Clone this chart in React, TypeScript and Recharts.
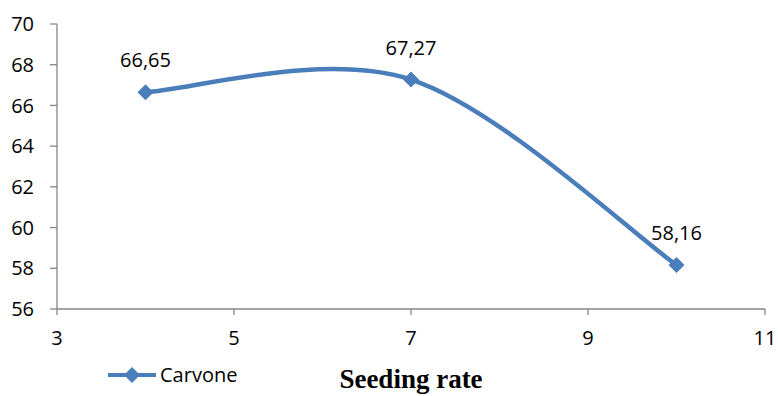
import React from 'react';
import { LineChart, Line, XAxis, YAxis, LabelList } from 'recharts';

// Seeding rate values and measured carvone content
const seedingRates = [4, 7, 10];
const carvone = [66.65, 67.27, 58.16];
const xTicks = [3, 5, 7, 9, 11];
const yTicks = [56, 58, 60, 62, 64, 66, 68, 70];

const data = seedingRates.map((x, i) => ({ x, carvone: carvone[i] }));

const FONT = '"Open Sans", sans-serif';
const LINE_COLOR = '#4A7EBB';
const AXIS_COLOR = '#868686';

// Excel-like smoothed line (Catmull-Rom turned into bezier segments)
const excelSmooth = (context: any) => {
  let pts: [number, number][] = [];
  return {
    areaStart() {},
    areaEnd() {},
    lineStart() {
      pts = [];
    },
    lineEnd() {
      const n = pts.length;
      if (!n) return;
      context.moveTo(pts[0][0], pts[0][1]);
      for (let i = 0; i < n - 1; i++) {
        const p0 = pts[Math.max(i - 1, 0)];
        const p1 = pts[i];
        const p2 = pts[i + 1];
        const p3 = pts[Math.min(i + 2, n - 1)];
        context.bezierCurveTo(
          p1[0] + (p2[0] - p0[0]) / 6,
          p1[1] + (p2[1] - p0[1]) / 6,
          p2[0] - (p3[0] - p1[0]) / 6,
          p2[1] - (p3[1] - p1[1]) / 6,
          p2[0],
          p2[1]
        );
      }
    },
    point(x: number, y: number) {
      pts.push([x, y]);
    },
  };
};

const Diamond = (props: any) => {
  const { cx, cy, index } = props;
  const r = 8;
  return (
    <path
      key={`dot-${index}`}
      d={`M${cx},${cy - r}L${cx + r},${cy}L${cx},${cy + r}L${cx - r},${cy}Z`}
      fill={LINE_COLOR}
    />
  );
};

const App = () => {
  return (
    <div style={{ position: 'absolute', left: 0, top: 0, width: 778, height: 396, background: '#fff' }}>
      <LineChart width={778} height={396} data={data} margin={{ top: 24, right: 13, bottom: 0, left: 0 }}>
        <XAxis
          dataKey="x"
          type="number"
          domain={[3, 11]}
          ticks={xTicks}
          height={87}
          tickSize={6}
          tickMargin={16}
          stroke={AXIS_COLOR}
          strokeWidth={1.3}
          tick={{ fill: '#000', fontFamily: FONT, fontSize: 20 }}
          label={{
            value: 'Seeding rate',
            position: 'insideBottom',
            offset: 8,
            style: { fontFamily: '"Liberation Serif", "Times New Roman", serif', fontWeight: 'bold', fontSize: 27, fill: '#000' },
          }}
        />
        <YAxis
          type="number"
          domain={[56, 70]}
          ticks={yTicks}
          width={57}
          tickSize={7}
          tickMargin={16}
          stroke={AXIS_COLOR}
          strokeWidth={1.3}
          tick={{ fill: '#000', fontFamily: FONT, fontSize: 20 }}
        />
        <Line
          dataKey="carvone"
          name="Carvone"
          type={excelSmooth as any}
          stroke={LINE_COLOR}
          strokeWidth={4.5}
          dot={Diamond}
          activeDot={false}
          isAnimationActive={false}
        >
          <LabelList
            dataKey="carvone"
            position="top"
            offset={25}
            formatter={(v: any) => Number(v).toFixed(2).replace('.', ',')}
            style={{ fill: '#000', fontFamily: FONT, fontSize: 20 }}
          />
        </Line>
      </LineChart>
      {/* legend drawn as an overlay so it doesn't shrink the plot */}
      <div
        style={{
          position: 'absolute',
          left: 107,
          top: 365,
          display: 'flex',
          alignItems: 'center',
          fontFamily: FONT,
          fontSize: 20,
          lineHeight: '20px',
          color: '#000',
        }}
      >
        <svg width={50} height={20} style={{ marginRight: 3 }}>
          <line x1={1} y1={10} x2={49} y2={10} stroke={LINE_COLOR} strokeWidth={4} />
          <path d="M25,2L33,10L25,18L17,10Z" fill={LINE_COLOR} />
        </svg>
        <span>Carvone</span>
      </div>
    </div>
  );
};

export default App;
